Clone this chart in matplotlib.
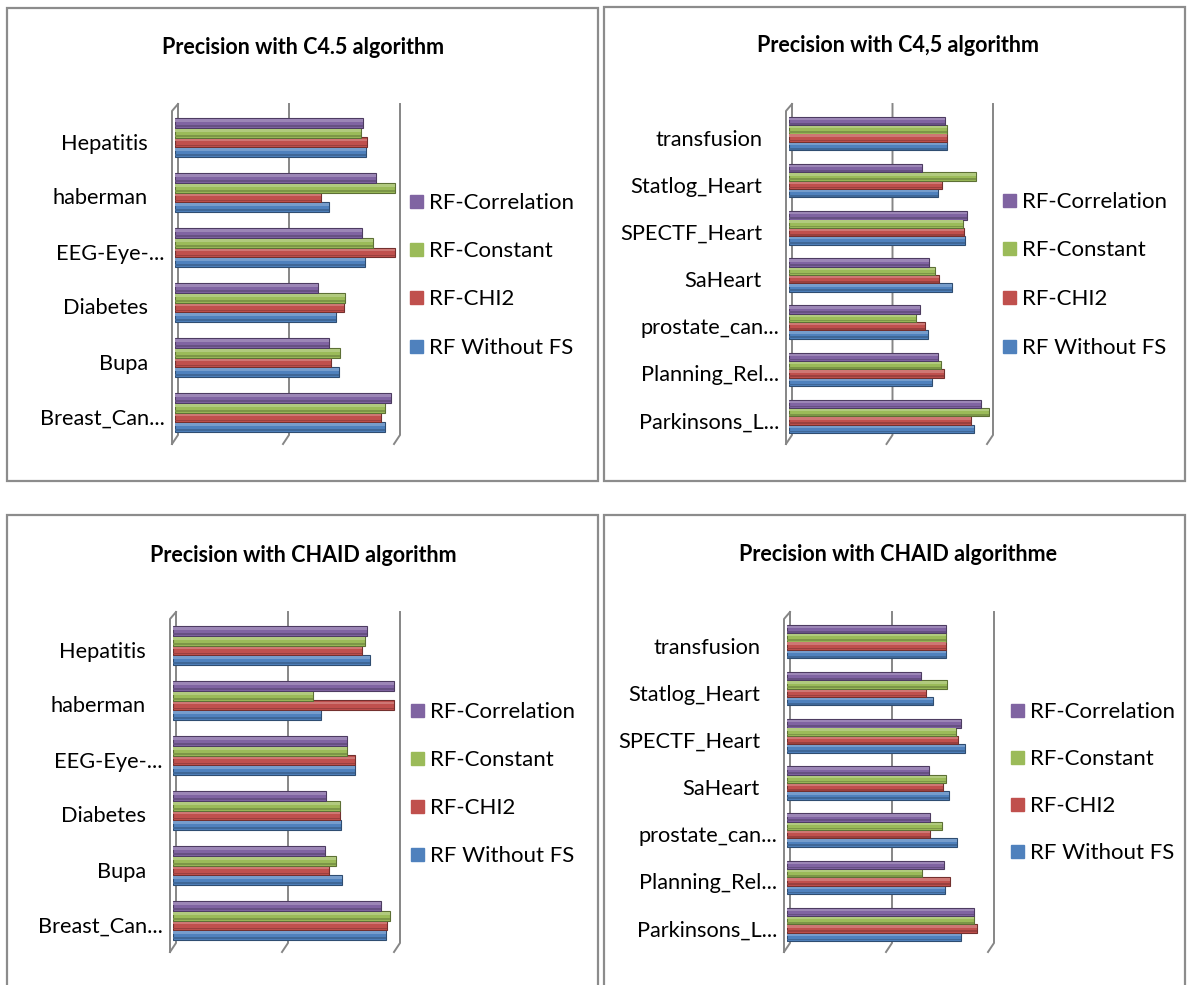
import numpy as np
import matplotlib
matplotlib.use("Agg")
import matplotlib.pyplot as plt
from matplotlib.patches import Rectangle
from matplotlib.colors import to_rgb
from matplotlib.transforms import ScaledTranslation

plt.rcParams['font.family'] = ['Lato', 'DejaVu Sans']

# datasets, listed bottom to top as they appear on the axis
left_sets = ['Breast_Can...', 'Bupa', 'Diabetes', 'EEG-Eye-...', 'haberman', 'Hepatitis']
right_sets = ['Parkinsons_L...', 'Planning_Rel...', 'prostate_can...', 'SaHeart',
              'SPECTF_Heart', 'Statlog_Heart', 'transfusion']

series = ['RF Without FS', 'RF-CHI2', 'RF-Constant', 'RF-Correlation']
colors = ['#4F81BD', '#C0504D', '#9BBB59', '#8064A2']

# precision, C4.5, left group of datasets
c45_left_nofs = [0.945, 0.740, 0.723, 0.857, 0.693, 0.861]
c45_left_chi2 = [0.929, 0.702, 0.762, 0.989, 0.659, 0.866]
c45_left_const = [0.945, 0.741, 0.767, 0.893, 0.989, 0.840]
c45_left_corr = [0.973, 0.692, 0.644, 0.842, 0.906, 0.849]

# precision, C4.5, right group of datasets
c45_right_nofs = [0.920, 0.713, 0.691, 0.812, 0.877, 0.743, 0.787]
c45_right_chi2 = [0.907, 0.769, 0.678, 0.748, 0.872, 0.761, 0.787]
c45_right_const = [0.996, 0.754, 0.633, 0.726, 0.864, 0.930, 0.786]
c45_right_corr = [0.955, 0.743, 0.651, 0.698, 0.885, 0.663, 0.778]

# precision, CHAID, left group of datasets
chaid_left_nofs = [0.953, 0.755, 0.751, 0.814, 0.659, 0.881]
chaid_left_chi2 = [0.955, 0.696, 0.744, 0.814, 0.986, 0.843]
chaid_left_const = [0.970, 0.727, 0.744, 0.779, 0.624, 0.856]
chaid_left_corr = [0.928, 0.680, 0.684, 0.775, 0.986, 0.864]

# precision, CHAID, right group of datasets
chaid_right_nofs = [0.851, 0.773, 0.835, 0.794, 0.874, 0.717, 0.779]
chaid_right_chi2 = [0.929, 0.798, 0.701, 0.763, 0.839, 0.683, 0.779]
chaid_right_const = [0.915, 0.661, 0.759, 0.779, 0.830, 0.782, 0.779]
chaid_right_corr = [0.915, 0.768, 0.701, 0.694, 0.855, 0.655, 0.779]

W, H = 1187, 985
fig = plt.figure(figsize=(W / 100, H / 100), dpi=100)


def tint(c, f):
    r = np.array(to_rgb(c))
    return tuple(r + (1 - r) * f)


def shade(c, f):
    return tuple(np.array(to_rgb(c)) * f)


def draw_panel(box, title, title_pos, cats, values, plot_px, legend_pos):
    bx0, by0, bx1, by1 = box
    fig.add_artist(Rectangle((bx0 / W, 1 - by1 / H), (bx1 - bx0) / W, (by1 - by0) / H,
                             transform=fig.transFigure, fill=False,
                             ec='#8c8c8c', lw=1.6))
    fig.text(title_pos[0] / W, 1 - title_pos[1] / H, title, ha='center',
             va='baseline', fontsize=15.5, fontweight='bold')

    xl, xr, yt, yb = plot_px
    ax = fig.add_axes([xl / W, 1 - yb / H, (xr - xl) / W, (yb - yt) / H])
    ax.set_xlim(0, 1)
    ax.set_ylim(-0.5, len(cats) - 0.5)
    ax.axis('off')

    # 3-d style walls: back grid lines plus a slanted floor edge
    px = 1 / (xr - xl)
    py = 1 / (yb - yt)
    trans = ax.get_xaxis_transform()
    gc = '#868686'
    for v in (0, 0.5, 1):
        ax.plot([v + 3 * px, v + 3 * px, v - 3 * px], [1 + 6 * py, 5 * py, -4 * py],
                transform=trans, color=gc, lw=1.4, clip_on=False, zorder=1)
    ax.plot([3 * px, -3 * px, -3 * px], [1 + 6 * py, 1 - 1 * py, -4 * py],
            transform=trans, color=gc, lw=1.4, clip_on=False, zorder=1)

    # bars with a light top face and a darker lower edge
    y = np.arange(len(cats))
    h = 0.177
    for i, (vals, c) in enumerate(zip(values, colors)):
        yy = y + (i - 1.5) * h
        ax.barh(yy, vals, height=h, color=c, edgecolor=shade(c, 0.6), lw=0.8, zorder=3)
        ax.barh(yy + h * 0.25, vals, height=h * 0.28, color=tint(c, 0.22), lw=0, zorder=4)
        ax.barh(yy - h * 0.32, vals, height=h * 0.2, color=shade(c, 0.8), lw=0, zorder=4)

    # Excel right-aligns the labels; the ellipsis hangs past the margin
    for k, name in enumerate(cats):
        pad = 10 if name.endswith('...') else 27
        off = ScaledTranslation(-pad / 100, -12 / 100, fig.dpi_scale_trans)
        ax.text(0, k, name, transform=ax.get_yaxis_transform() + off,
                ha='right', va='baseline', fontsize=15.7)

    lx, ly0, dy = legend_pos
    for j, i in enumerate(range(len(series) - 1, -1, -1)):
        cy = ly0 + j * dy
        fig.add_artist(Rectangle((lx / W, 1 - (cy + 6.5) / H), 13 / W, 13 / H,
                                 transform=fig.transFigure, color=colors[i]))
        fig.text((lx + 19.5) / W, 1 - (cy + 7.5) / H, series[i],
                 va='baseline', fontsize=16)
    return ax


draw_panel((7, 8, 598, 481), 'Precision with C4.5 algorithm', (303, 54), left_sets,
           [c45_left_nofs, c45_left_chi2, c45_left_const, c45_left_corr],
           (175, 397, 110, 440), (409.5, 201.7, 48.1))
draw_panel((604, 7, 1185, 481), 'Precision with C4,5 algorithm', (898, 51.7), right_sets,
           [c45_right_nofs, c45_right_chi2, c45_right_const, c45_right_corr],
           (789, 990, 110, 440), (1003, 200, 48.7))
draw_panel((7, 515, 598, 995), 'Precision with CHAID algorithm', (303.5, 561.7), left_sets,
           [chaid_left_nofs, chaid_left_chi2, chaid_left_const, chaid_left_corr],
           (173, 397, 618, 948), (411, 710, 48.3))
draw_panel((604, 515, 1185, 995), 'Precision with CHAID algorithme', (898, 560.7), right_sets,
           [chaid_right_nofs, chaid_right_chi2, chaid_right_const, chaid_right_corr],
           (787, 991, 618, 948), (1011, 710, 47.2))

fig.savefig('out.png', dpi=100)
